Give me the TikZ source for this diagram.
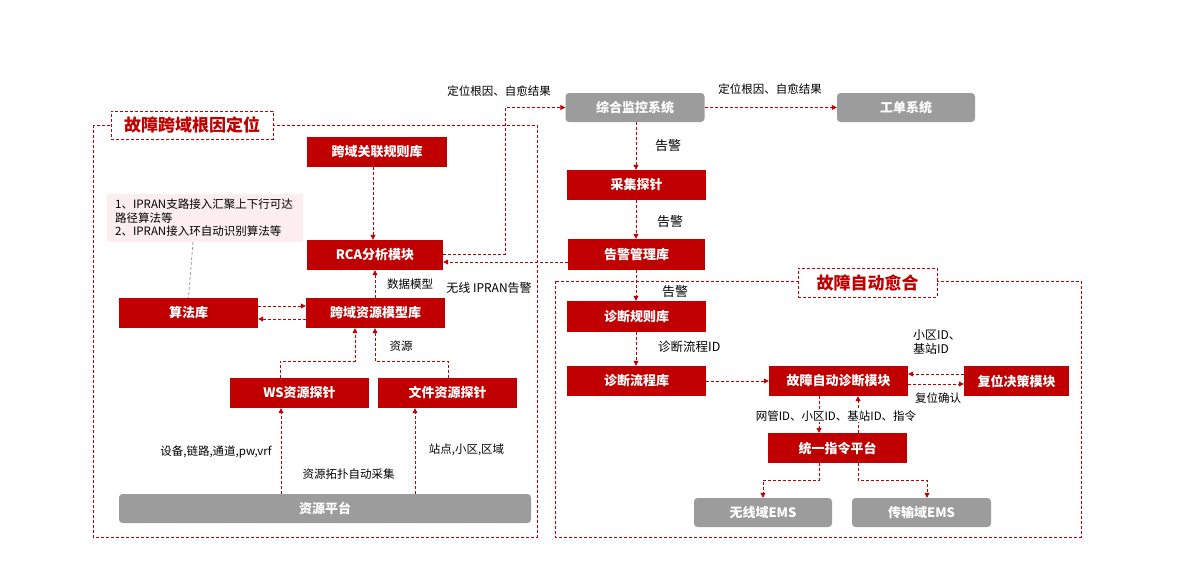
\documentclass[tikz,border=0pt]{standalone}
\usepackage{fontspec}
\setmainfont{Noto Sans CJK SC}
\usetikzlibrary{arrows.meta}
\definecolor{hred}{HTML}{C00000}
\definecolor{hgray}{HTML}{9C9C9C}
\definecolor{hpink}{HTML}{FCEEEE}
\begin{document}
\begin{tikzpicture}[x=1pt,y=-1pt,
  redbox/.style={fill=hred,text=white,font=\fontsize{13}{15}\selectfont\bfseries,inner sep=0pt,minimum width=139pt,minimum height=30pt},
  graybox/.style={fill=hgray,text=white,rounded corners=3.5pt,font=\fontsize{13}{15}\selectfont\bfseries,inner sep=0pt,minimum width=139pt,minimum height=29pt},
  dline/.style={draw=hred,line width=0.8pt,dash pattern=on 3pt off 2pt},
  arr/.style={dline,-{Triangle[length=5pt,width=5pt]}},
  lbl/.style={font=\fontsize{11.5}{14}\selectfont,inner sep=0pt},
  biglbl/.style={font=\fontsize{13}{15}\selectfont,inner sep=0pt},
  titlebox/.style={dline,fill=white,text=hred,font=\fontsize{17}{20}\selectfont\bfseries,inner sep=0pt}
]
\useasboundingbox (0,0) rectangle (1200,562);

% frames
\draw[dline] (93,125) rectangle (537,537);
\draw[dline] (555,281) rectangle (1081,537);
\node[titlebox,minimum width=162pt,minimum height=28pt] (t1) at (192,125) {故障跨域根因定位};
\node[titlebox,minimum width=139pt,minimum height=29pt] (t2) at (867.5,282.5) {故障自动愈合};

% left boxes
\node[redbox,minimum width=140pt] (rule) at (377,152) {跨域关联规则库};
\node[redbox,minimum width=136pt] (rca) at (375,255) {RCA分析模块};
\node[redbox] (alg) at (188.5,313) {算法库};
\node[redbox] (model) at (375.5,313) {跨域资源模型库};
\node[redbox] (ws) at (299.5,393) {WS资源探针};
\node[redbox] (file) at (447.5,393) {文件资源探针};
\node[graybox,minimum width=412pt] (plat) at (325,508.5) {资源平台};
\node[fill=hpink,inner sep=0pt,minimum width=196pt,minimum height=48pt] (note) at (205,218) {};
\node[lbl,anchor=west,align=left,font=\fontsize{11.5}{13.5}\selectfont] (notetext) at (115,218) {1、IPRAN支路接入汇聚上下行可达\\路径算法等\\2、IPRAN接入环自动识别算法等};

% right boxes
\node[graybox] (jk) at (635,107.5) {综合监控系统};
\node[graybox,minimum width=138pt] (gd) at (906,107.5) {工单系统};
\node[redbox] (cj) at (636.5,185) {采集探针};
\node[redbox,minimum width=137pt,minimum height=31pt] (gj) at (636.5,254.5) {告警管理库};
\node[redbox,minimum height=31pt] (zdgz) at (636.5,316.5) {诊断规则库};
\node[redbox] (zdlc) at (636.5,381) {诊断流程库};
\node[redbox] (gzzd) at (838.5,381) {故障自动诊断模块};
\node[redbox,minimum width=105pt] (fw) at (1016.5,381) {复位决策模块};
\node[redbox] (ty) at (837.5,448) {统一指令平台};
\node[graybox,minimum width=138pt] (wx) at (763,512.5) {无线域EMS};
\node[graybox] (cs) at (921.5,512.5) {传输域EMS};

% left connectors
\draw[arr] (rule.south -| 373,0) -- (rca.north -| 373,0);
\draw[arr] (gj.west |- 0,262) -- (rca.east |- 0,262);
\draw[arr] (rca.east |- 0,254) -- (505,254) |- (jk.west);
\node[lbl] (l1) at (499,91) {定位根因、自愈结果};
\draw[arr] (jk.east) -- (gd.west);
\node[lbl] (l2) at (770,89) {定位根因、自愈结果};

\draw[draw=hgray,line width=0.8pt,dash pattern=on 3pt off 2pt] (note.south -| 193,0) -- (alg.north);
\draw[arr] (alg.east |- 0,306) -- (model.west |- 0,306);
\draw[arr] (model.west |- 0,319) -- (alg.east |- 0,319);
\draw[arr] (model.north -| 375,0) -- (rca.south -| 375,0);
\node[lbl] (l3) at (410,284) {数据模型};
\node[lbl,font=\fontsize{12}{14}\selectfont] (l4) at (489,288) {无线 IPRAN告警};
\draw[arr] (ws.north -| 280,0) -- (280,361) -| (model.south -| 355,0);
\draw[arr] (file.north -| 448,0) -- (448,361) -| (model.south -| 375,0);
\node[lbl] (l5) at (401,346) {资源};
\draw[arr] (plat.north -| 281,0) -- (ws.south -| 281,0);
\draw[arr] (plat.north -| 415,0) -- (file.south -| 415,0);
\node[lbl] (l6) at (216,452) {设备,链路,通道,pw,vrf};
\node[lbl] (l7) at (348.5,474) {资源拓扑自动采集};
\node[lbl] (l8) at (466.5,450) {站点,小区,区域};

% right connectors
\draw[arr] (jk.south -| 636,0) -- (cj.north -| 636,0);
\node[biglbl,anchor=west] (l9) at (655,146) {告警};
\draw[arr] (cj.south -| 636,0) -- (gj.north -| 636,0);
\node[biglbl,anchor=west] (l10) at (657,222) {告警};
\draw[arr] (gj.south -| 636,0) -- (zdgz.north -| 636,0);
\node[biglbl,anchor=west] (l11) at (662,292) {告警};
\draw[arr] (zdgz.south -| 636,0) -- (zdlc.north -| 636,0);
\node[biglbl,anchor=west,font=\fontsize{12.5}{15}\selectfont] (l12) at (658,347) {诊断流程ID};
\draw[arr] (zdlc.east) -- (gzzd.west);
\draw[arr] (fw.west |- 0,374) -- (gzzd.east |- 0,374);
\draw[arr] (gzzd.east |- 0,384) -- (fw.west |- 0,384);
\node[lbl,anchor=west,align=left,font=\fontsize{12}{13.5}\selectfont] (l13) at (913,342) {小区ID、\\基站ID};
\node[lbl] (l14) at (938,398) {复位确认};
\draw[arr] (gzzd.south -| 819,0) -- (ty.north -| 819,0);
\draw[arr] (ty.north -| 858,0) -- (gzzd.south -| 858,0);
\node[lbl,fill=white,inner sep=1pt] (l15) at (836,416) {网管ID、小区ID、基站ID、指令};
\draw[arr] (ty.south -| 819,0) -- (819,480) -| (wx.north);
\draw[arr] (ty.south -| 858,0) -- (858,480) -| (cs.north -| 927,0);
\end{tikzpicture}
\end{document}
